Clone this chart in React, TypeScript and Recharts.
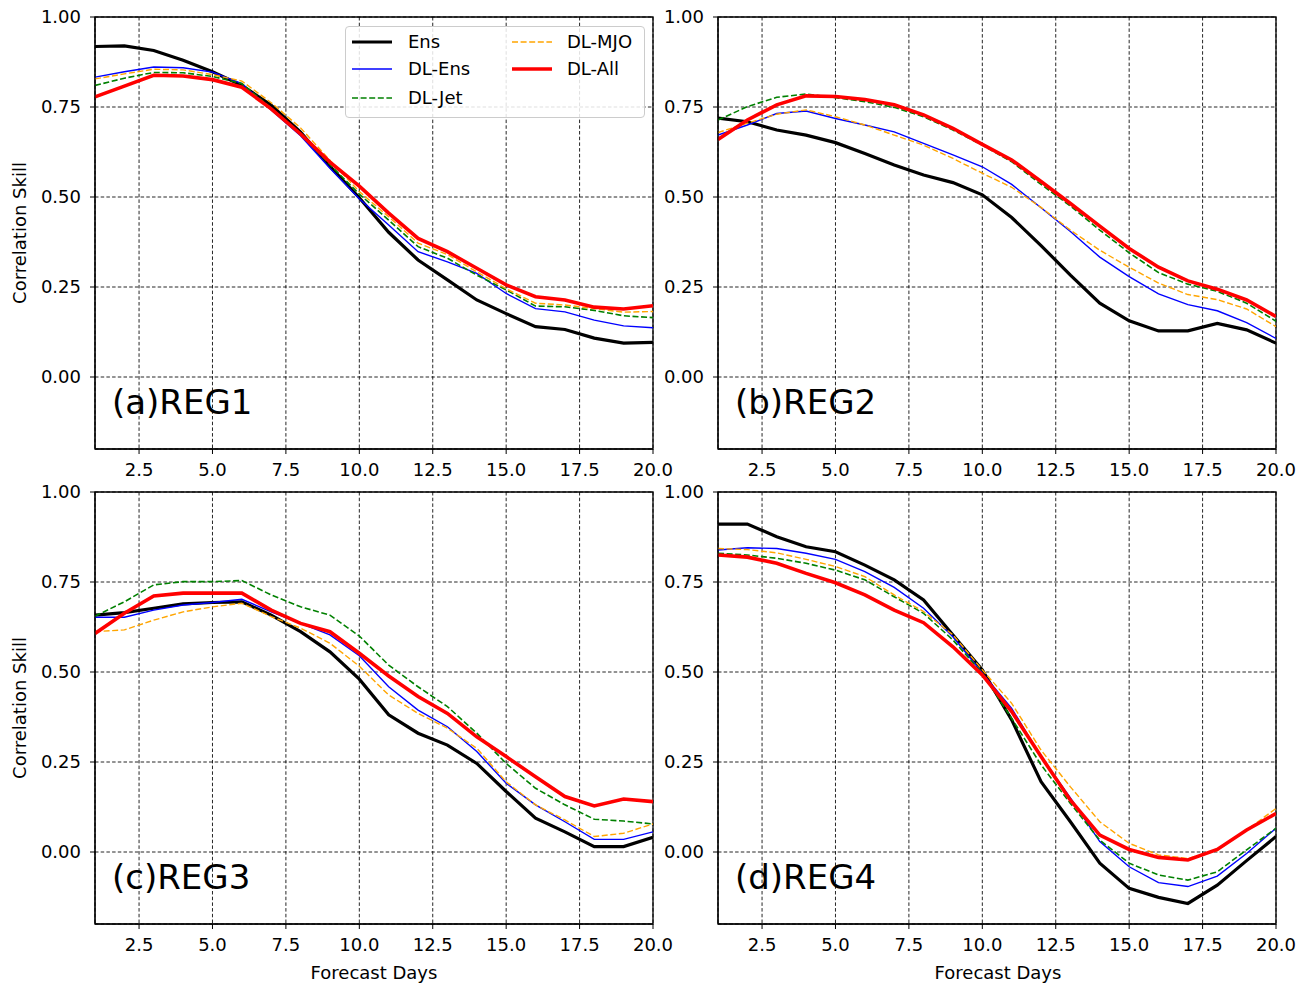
import React from "react";
import {
  LineChart,
  Line,
  XAxis,
  YAxis,
  CartesianGrid,
  ReferenceArea,
} from "recharts";

const days = [1, 2, 3, 4, 5, 6, 7, 8, 9, 10, 11, 12, 13, 14, 15, 16, 17, 18, 19, 20];
const xTicks = [2.5, 5, 7.5, 10, 12.5, 15, 17.5, 20];
const yTicks = [0, 0.25, 0.5, 0.75, 1];

// REG1
const ensA = [0.918, 0.92, 0.907, 0.88, 0.848, 0.81, 0.755, 0.68, 0.585, 0.498, 0.402, 0.325, 0.27, 0.214, 0.176, 0.14, 0.132, 0.108, 0.094, 0.096];
const dlEnsA = [0.833, 0.848, 0.861, 0.859, 0.847, 0.815, 0.742, 0.67, 0.58, 0.495, 0.422, 0.348, 0.32, 0.288, 0.232, 0.19, 0.181, 0.158, 0.142, 0.137];
const dlJetA = [0.81, 0.83, 0.846, 0.845, 0.835, 0.815, 0.747, 0.675, 0.59, 0.508, 0.436, 0.362, 0.33, 0.283, 0.242, 0.197, 0.195, 0.185, 0.17, 0.165];
const dlMjoA = [0.828, 0.842, 0.855, 0.853, 0.84, 0.822, 0.762, 0.692, 0.602, 0.515, 0.445, 0.372, 0.34, 0.292, 0.245, 0.205, 0.2, 0.19, 0.18, 0.182];
const dlAllA = [0.778, 0.808, 0.838, 0.836, 0.826, 0.805, 0.745, 0.675, 0.597, 0.53, 0.455, 0.385, 0.348, 0.302, 0.256, 0.223, 0.214, 0.194, 0.189, 0.198];

// REG2
const ensB = [0.719, 0.709, 0.686, 0.672, 0.651, 0.621, 0.589, 0.561, 0.54, 0.506, 0.443, 0.365, 0.283, 0.205, 0.156, 0.128, 0.128, 0.149, 0.131, 0.094];
const dlEnsB = [0.672, 0.7, 0.732, 0.739, 0.718, 0.7, 0.681, 0.649, 0.617, 0.584, 0.535, 0.47, 0.404, 0.333, 0.279, 0.231, 0.201, 0.184, 0.151, 0.107];
const dlJetB = [0.714, 0.751, 0.777, 0.786, 0.776, 0.765, 0.749, 0.723, 0.686, 0.644, 0.598, 0.535, 0.475, 0.408, 0.345, 0.29, 0.258, 0.238, 0.205, 0.155];
const dlMjoB = [0.679, 0.705, 0.73, 0.742, 0.723, 0.7, 0.672, 0.644, 0.607, 0.566, 0.527, 0.471, 0.408, 0.352, 0.305, 0.261, 0.229, 0.215, 0.189, 0.14];
const dlAllB = [0.66, 0.714, 0.756, 0.781, 0.779, 0.771, 0.756, 0.728, 0.691, 0.646, 0.603, 0.543, 0.482, 0.419, 0.357, 0.305, 0.267, 0.244, 0.214, 0.168];

// REG3
const ensC = [0.658, 0.665, 0.677, 0.689, 0.693, 0.695, 0.658, 0.612, 0.556, 0.48, 0.381, 0.33, 0.297, 0.246, 0.168, 0.094, 0.056, 0.015, 0.015, 0.041];
const dlEnsC = [0.652, 0.652, 0.672, 0.686, 0.693, 0.702, 0.667, 0.635, 0.603, 0.545, 0.459, 0.394, 0.348, 0.279, 0.191, 0.131, 0.084, 0.035, 0.035, 0.056];
const dlJetC = [0.655, 0.695, 0.742, 0.751, 0.751, 0.754, 0.714, 0.681, 0.658, 0.6, 0.519, 0.459, 0.404, 0.33, 0.246, 0.177, 0.131, 0.091, 0.086, 0.078];
const dlMjoC = [0.612, 0.617, 0.644, 0.667, 0.681, 0.691, 0.654, 0.622, 0.58, 0.516, 0.436, 0.385, 0.344, 0.288, 0.195, 0.131, 0.089, 0.043, 0.052, 0.078];
const dlAllC = [0.607, 0.663, 0.711, 0.719, 0.719, 0.719, 0.672, 0.635, 0.612, 0.552, 0.489, 0.432, 0.385, 0.32, 0.265, 0.209, 0.154, 0.128, 0.147, 0.14];

// REG4
const ensD = [0.911, 0.911, 0.876, 0.848, 0.834, 0.797, 0.756, 0.7, 0.603, 0.506, 0.367, 0.195, 0.084, -0.031, -0.101, -0.126, -0.143, -0.092, -0.024, 0.043];
const dlEnsD = [0.839, 0.845, 0.843, 0.83, 0.813, 0.779, 0.735, 0.677, 0.598, 0.497, 0.399, 0.265, 0.15, 0.029, -0.041, -0.085, -0.096, -0.067, -0.004, 0.066];
const dlJetD = [0.83, 0.825, 0.816, 0.802, 0.783, 0.756, 0.709, 0.663, 0.589, 0.496, 0.371, 0.242, 0.135, 0.033, -0.031, -0.064, -0.078, -0.055, 0.006, 0.066];
const dlMjoD = [0.843, 0.84, 0.831, 0.813, 0.793, 0.765, 0.714, 0.668, 0.603, 0.506, 0.413, 0.283, 0.181, 0.084, 0.024, -0.008, -0.018, 0.004, 0.061, 0.121];
const dlAllD = [0.825, 0.819, 0.802, 0.774, 0.748, 0.714, 0.672, 0.637, 0.57, 0.492, 0.39, 0.265, 0.144, 0.047, 0.007, -0.015, -0.022, 0.007, 0.061, 0.107];

const FONT = "'DejaVu Sans', sans-serif";

const series = [
  { key: "ens", name: "Ens", color: "#000000", width: 3.2, dash: undefined },
  { key: "dlEns", name: "DL-Ens", color: "#0000ff", width: 1.4, dash: undefined },
  { key: "dlJet", name: "DL-Jet", color: "#008000", width: 1.6, dash: "6 2.6" },
  { key: "dlMjo", name: "DL-MJO", color: "#ffa500", width: 1.4, dash: "6 2.6" },
  { key: "dlAll", name: "DL-All", color: "#ff0000", width: 3.6, dash: undefined },
];

const makeRows = (e: number[], de: number[], dj: number[], dm: number[], da: number[]) =>
  days.map((d, i) => ({ day: d, ens: e[i], dlEns: de[i], dlJet: dj[i], dlMjo: dm[i], dlAll: da[i] }));

const panels = [
  { label: "(a)REG1", left: 0, top: 0, rows: makeRows(ensA, dlEnsA, dlJetA, dlMjoA, dlAllA) },
  { label: "(b)REG2", left: 623, top: 0, rows: makeRows(ensB, dlEnsB, dlJetB, dlMjoB, dlAllB) },
  { label: "(c)REG3", left: 0, top: 475, rows: makeRows(ensC, dlEnsC, dlJetC, dlMjoC, dlAllC) },
  { label: "(d)REG4", left: 623, top: 475, rows: makeRows(ensD, dlEnsD, dlJetD, dlMjoD, dlAllD) },
];

const W = 690;
const H = 500;
const tickStyle = { fill: "#000", fontSize: 18, fontFamily: FONT };

function Panel({ p }: { p: (typeof panels)[number] }) {
  return (
    <div style={{ position: "absolute", left: p.left, top: p.top }}>
      <LineChart width={W} height={H} data={p.rows} margin={{ top: 17, right: 37, left: 0, bottom: 0 }}>
        <CartesianGrid stroke="#000" strokeOpacity={0.95} strokeWidth={0.9} strokeDasharray="3.5 2.2" />
        <XAxis
          dataKey="day"
          type="number"
          domain={[1, 20]}
          ticks={xTicks}
          allowDataOverflow
          tickFormatter={(v: number) => v.toFixed(1)}
          height={51}
          tickSize={5}
          tickMargin={9}
          stroke="#000"
          tick={tickStyle}
          interval={0}
        />
        <YAxis
          type="number"
          domain={[-0.2, 1]}
          ticks={yTicks}
          allowDataOverflow
          tickFormatter={(v: number) => v.toFixed(2)}
          width={95}
          tickSize={5}
          tickMargin={9}
          stroke="#000"
          tick={tickStyle}
          interval={0}
        />
        <ReferenceArea x1={1} x2={20} y1={-0.2} y2={1} fill="none" fillOpacity={0} stroke="#000" strokeWidth={1.3} />
        {series.map((s) => (
          <Line
            key={s.key}
            type="linear"
            dataKey={s.key}
            name={s.name}
            stroke={s.color}
            strokeWidth={s.width}
            strokeDasharray={s.dash}
            dot={false}
            activeDot={false}
            isAnimationActive={false}
          />
        ))}
      </LineChart>
      <div
        style={{
          position: "absolute",
          left: 112,
          top: 385,
          fontSize: 34,
          lineHeight: "34px",
          fontFamily: FONT,
          whiteSpace: "nowrap",
        }}
      >
        {p.label}
      </div>
    </div>
  );
}

function LegendBox() {
  const items = [
    { s: series[0], x: 6, tx: 62, y: 15 },
    { s: series[1], x: 6, tx: 62, y: 42 },
    { s: series[2], x: 6, tx: 62, y: 71 },
    { s: series[3], x: 166, tx: 221, y: 15 },
    { s: series[4], x: 166, tx: 221, y: 42 },
  ];
  return (
    <div
      style={{
        position: "absolute",
        left: 345,
        top: 26,
        width: 298,
        height: 90,
        border: "1px solid #cccccc",
        borderRadius: 4,
        background: "rgba(255,255,255,0.85)",
        fontFamily: FONT,
        fontSize: 18,
      }}
    >
      {items.map(({ s, x, tx, y }) => (
        <React.Fragment key={s.key}>
          <svg style={{ position: "absolute", left: x, top: y - 5 }} width={40} height={10}>
            <line x1={0} x2={40} y1={5} y2={5} stroke={s.color} strokeWidth={s.width} strokeDasharray={s.dash} />
          </svg>
          <div style={{ position: "absolute", left: tx, top: y - 11, lineHeight: "22px", whiteSpace: "nowrap" }}>
            {s.name}
          </div>
        </React.Fragment>
      ))}
    </div>
  );
}

export default function App() {
  return (
    <div
      style={{
        position: "absolute",
        left: 0,
        top: 0,
        width: 1316,
        height: 984,
        background: "#fff",
        overflow: "hidden",
        fontFamily: FONT,
      }}
    >
      {panels.map((p) => (
        <Panel key={p.label} p={p} />
      ))}
      <LegendBox />
      {[233, 708].map((cy) => (
        <div
          key={cy}
          style={{
            position: "absolute",
            left: 20,
            top: cy,
            transform: "translate(-50%, -50%) rotate(-90deg)",
            fontSize: 18,
            lineHeight: "18px",
            whiteSpace: "nowrap",
          }}
        >
          Correlation Skill
        </div>
      ))}
      {[374, 998].map((cx) => (
        <div
          key={cx}
          style={{
            position: "absolute",
            left: cx,
            top: 964,
            transform: "translateX(-50%)",
            fontSize: 18,
            lineHeight: "18px",
            whiteSpace: "nowrap",
          }}
        >
          Forecast Days
        </div>
      ))}
    </div>
  );
}
